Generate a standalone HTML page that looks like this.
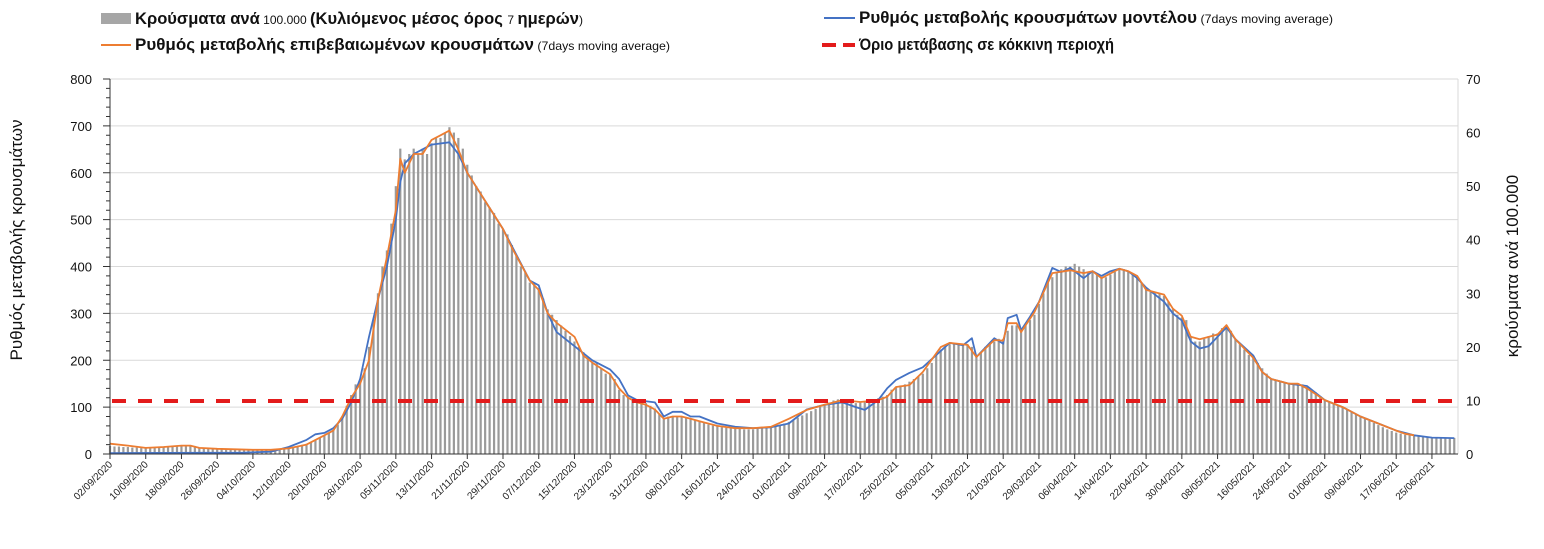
<!DOCTYPE html>
<html><head><meta charset="utf-8"><style>
body{margin:0;background:#fff;width:1544px;height:544px;overflow:hidden;font-family:"Liberation Sans","DejaVu Sans",sans-serif}
svg text{font-family:"Liberation Sans","DejaVu Sans",sans-serif}
</style></head><body>
<svg id="chart" width="1544" height="544" xmlns="http://www.w3.org/2000/svg">
<g id="legend">
 <g>
  <rect x="101" y="13" width="30" height="11" fill="#a6a6a6"/>
  <text x="135" y="24" font-size="16.5" fill="#111" textLength="448" lengthAdjust="spacingAndGlyphs"><tspan font-weight="bold">Κρούσματα ανά</tspan><tspan font-size="12"> 100.000 </tspan><tspan font-weight="bold">(Κυλιόμενος μέσος όρος </tspan><tspan font-size="12">7 </tspan><tspan font-weight="bold">ημερών</tspan><tspan font-size="12">)</tspan></text>
 </g>
 <g>
  <line x1="101" y1="45" x2="131" y2="45" stroke="#ed7d31" stroke-width="2"/>
  <text x="135" y="50" font-size="16.5" fill="#111" textLength="535" lengthAdjust="spacingAndGlyphs"><tspan font-weight="bold">Ρυθμός μεταβολής επιβεβαιωμένων κρουσμάτων</tspan><tspan font-size="12"> (7days moving average)</tspan></text>
 </g>
 <g>
  <line x1="824" y1="18" x2="855" y2="18" stroke="#4472c4" stroke-width="2"/>
  <text x="859" y="23" font-size="16.5" fill="#111" textLength="474" lengthAdjust="spacingAndGlyphs"><tspan font-weight="bold">Ρυθμός μεταβολής κρουσμάτων μοντέλου</tspan><tspan font-size="12"> (7days moving average)</tspan></text>
 </g>
 <g>
  <line x1="822" y1="45" x2="855" y2="45" stroke="#e31b1b" stroke-width="4" stroke-dasharray="14,7"/>
  <text x="859" y="50" font-size="16.5" font-weight="bold" fill="#111" textLength="255" lengthAdjust="spacingAndGlyphs">Όριο μετάβασης σε κόκκινη περιοχή</text>
 </g>
</g>
<text transform="translate(22,240) rotate(-90)" text-anchor="middle" font-size="17" fill="#111">Ρυθμός μεταβολής κρουσμάτων</text>
<text transform="translate(1518,266) rotate(-90)" text-anchor="middle" font-size="17" fill="#111">κρούσματα ανά 100.000</text>
<g id="grid"></g><g id="bars"></g><g id="lines"></g><g id="axes"></g>
</svg>
<script>
const dateTicks=["02/09/2020","10/09/2020","18/09/2020","26/09/2020","04/10/2020","12/10/2020","20/10/2020","28/10/2020","05/11/2020","13/11/2020","21/11/2020","29/11/2020","07/12/2020","15/12/2020","23/12/2020","31/12/2020","08/01/2021","16/01/2021","24/01/2021","01/02/2021","09/02/2021","17/02/2021","25/02/2021","05/03/2021","13/03/2021","21/03/2021","29/03/2021","06/04/2021","14/04/2021","22/04/2021","30/04/2021","08/05/2021","16/05/2021","24/05/2021","01/06/2021","09/06/2021","17/06/2021","25/06/2021"];
const leftTicks=[0,100,200,300,400,500,600,700,800];
const rightTicks=[0,10,20,30,40,50,60,70];
const redThreshold=113;
const casesPer100k=[1.5,1.4,1.4,1.3,1.3,1.2,1.2,1.1,1.1,1.1,
1.2,1.2,1.3,1.3,1.4,1.5,1.5,1.6,1.6,1.5,
1.2,1.1,1.0,1.0,1.0,0.9,0.9,0.9,0.9,0.8,
0.8,0.8,0.8,0.8,0.8,0.8,0.8,0.9,1.0,1.1,
1.2,1.3,1.5,1.7,1.9,2.2,2.6,3.0,3.5,4.0,
4.5,5.5,7.0,9.0,11,13,14,16,20,25,
30,35,38,43,50,57,55,56,57,56,
57,56,58,59,59,60,61,60,59,57,
54,52,50,49,47,46,45,43,42,41,
39,37,35,34,32,32,31,29,27,26,
25,24,23,22,21,20,19,18,17,17,
16,15,15,14,12,11,10.5,10,10,9.5,
9.5,9,8.5,7.5,6.5,7,7,7,7,6.8,
6.5,6.3,6,5.8,5.5,5.3,5.2,5,4.9,4.8,
4.7,4.7,4.6,4.6,4.6,4.7,4.8,4.9,5,5.2,
5.4,5.7,6,6.4,6.8,7.2,7.6,8,8.4,8.8,
9.2,9.6,10,10.2,10.2,10,9.8,9.5,9.6,9.8,
10,10.2,10.4,10.7,11,12,12.5,12.8,13,13.5,
14,14.5,15,16,17,18.5,19.5,20,20.5,20.5,
20.5,20.5,20.5,20,18.5,19,20,20.5,21,21.5,
21.5,23,24,24,23,24,25,26,28,30,
32,33,34,34.5,35,35,35.5,35,34.5,34,
34,33.5,33,33,33.5,34,34.5,34.5,34,33.5,
33,32,31,30.5,30,30,29.5,28.5,27,26,
25.5,25,22,21,21,21.5,22,22.5,22.5,23.5,
24,23,21.5,20.5,19.5,18.5,18,17,16,15,
14,13.8,13.6,13.4,13.2,13.2,13.2,13,12.5,12,
11.5,10.8,10.2,9.8,9.4,9,8.7,8.3,7.9,7.4,
7,6.6,6.2,5.8,5.4,5,4.6,4.3,4,3.8,
3.6,3.5,3.4,3.3,3.2,3.1,3.0,3.0,3.0,3.0,
3.0,3.0];
const confirmedDays=[0,4,8,12,16,18,20,24,28,32,36,40,44,48,50,52,54,56,58,60,62,64,65,66,68,70,72,74,76,78,80,84,88,90,94,96,98,100,104,106,108,112,114,116,118,120,122,124,126,128,130,132,136,140,144,148,152,156,160,164,168,172,174,176,179,182,186,188,192,194,198,200,201,203,204,207,211,215,218,220,222,224,226,228,230,232,236,238,240,242,244,248,250,252,256,258,260,264,266,268,272,276,280,284,288,290,292];
const confirmedRate=[22,18,13,15,18,18,13,11,10,9,9,12,20,40,50,80,120,150,200,330,420,520,630,600,640,640,670,680,690,650,600,540,480,440,370,350,300,280,250,210,195,170,140,120,110,105,95,75,80,80,75,70,60,55,55,58,75,94,105,115,111,115,122,143,147,175,228,237,233,207,243,242,279,279,260,303,386,392,386,390,375,385,395,390,380,350,340,310,295,250,245,255,275,245,205,175,160,150,150,140,115,100,80,65,50,43,40];
const modelDays=[0,30,36,40,44,46,48,50,52,54,56,58,60,62,64,65,66,68,72,76,78,80,84,88,94,96,98,100,104,108,112,114,116,118,122,124,126,128,130,132,136,140,144,148,152,156,160,164,167,169,172,174,176,179,182,185,188,191,193,194,198,200,201,203,204,206,208,211,213,215,218,220,222,224,226,228,230,232,236,238,240,242,244,246,248,250,252,256,258,260,264,268,272,276,280,284,288,292,296,301];
const modelRate=[2,3,5,15,30,42,45,55,75,110,160,250,330,400,500,580,620,640,660,665,640,600,540,480,370,360,300,260,230,200,180,160,125,115,110,80,90,90,80,80,65,58,55,57,65,95,105,110,100,94,115,140,158,173,185,211,237,232,247,207,247,235,290,297,264,293,324,397,388,397,375,390,380,390,395,390,375,355,325,300,285,240,225,230,250,270,245,210,175,160,150,145,115,100,80,65,50,40,35,34];

const NS="http://www.w3.org/2000/svg";
const X0=110,X1=1458,Y0=454,Y1=79,PXD=4.466;
const x=d=>X0+d*PXD;
const yL=v=>Y0-v/800*(Y0-Y1);
const yR=v=>Y0-v/70*(Y0-Y1);
function mk(tag,attrs,parent){const e=document.createElementNS(NS,tag);for(const k in attrs)e.setAttribute(k,attrs[k]);parent.appendChild(e);return e;}
const grid=document.getElementById('grid'),bars=document.getElementById('bars'),lines=document.getElementById('lines'),axes=document.getElementById('axes');
leftTicks.forEach(v=>{
 if(v>0){const g=mk('line',{x1:X0,x2:X1,y1:yL(v),y2:yL(v),stroke:'#d9d9d9','stroke-width':1},grid);
 
 }
 const t=mk('text',{x:92,y:yL(v)+5,'text-anchor':'end','font-size':13,fill:'#111'},axes);t.textContent=v;
 
 
});
for(let v=0;v<=800;v+=20){mk('line',{x1:X0-(v%100?4:7),x2:X0,y1:yL(v),y2:yL(v),stroke:'#333','stroke-width':1},axes);}
rightTicks.forEach(v=>{
 const t=mk('text',{x:1466,y:yR(v)+5,'font-size':13,fill:'#111'},axes);t.textContent=v;
 
 
});
const la=mk('line',{x1:X0,x2:X0,y1:Y1,y2:Y0,stroke:'#333'},axes);


const ra=mk('line',{x1:X1,x2:X1,y1:Y1,y2:Y0,stroke:'#d9d9d9'},axes);


const xa=mk('line',{x1:X0,x2:X1,y1:Y0,y2:Y0,stroke:'#333'},axes);


casesPer100k.forEach((v,i)=>{
 const b=mk('rect',{x:x(i)-1.1,y:yR(v),width:2.2,height:Y0-yR(v),fill:'#9a9a9a'},bars);
 
 
});
dateTicks.forEach((s,i)=>{
 const d=i*8;
 mk('line',{x1:x(d),x2:x(d),y1:Y0,y2:Y0+5,stroke:'#333'},axes);
 const t=mk('text',{transform:`translate(${x(d)+3},${Y0+11}) rotate(-45)`,'text-anchor':'end','font-size':10,fill:'#222'},axes);t.textContent=s;
 
 
});
const pl=(days,vals)=>days.map((d,i)=>x(d).toFixed(1)+','+yL(vals[i]).toFixed(1)).join(' ');
const mline=mk('polyline',{points:pl(modelDays,modelRate),fill:'none',stroke:'#4472c4','stroke-width':1.8,'stroke-linejoin':'round'},lines);


const cline=mk('polyline',{points:pl(confirmedDays,confirmedRate),fill:'none',stroke:'#ed7d31','stroke-width':1.8,'stroke-linejoin':'round'},lines);


const red=mk('line',{x1:X0+2,x2:X1-5,y1:yL(redThreshold),y2:yL(redThreshold),stroke:'#e31b1b','stroke-width':4,'stroke-dasharray':'14,12'},lines);


</script>
</body></html>
